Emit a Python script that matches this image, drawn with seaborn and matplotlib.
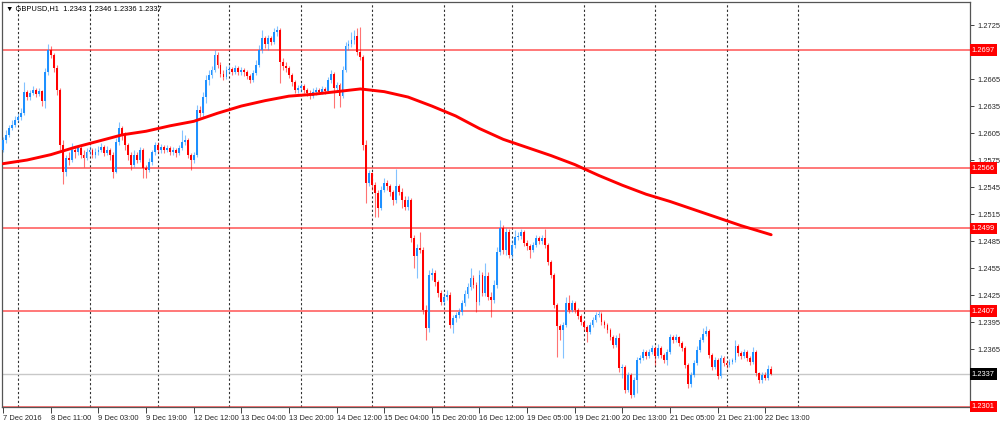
import matplotlib
matplotlib.use("Agg")
import matplotlib.pyplot as plt
import seaborn as sns

sns.set_style("white")
plt.rcParams["font.family"] = ["Liberation Sans", "DejaVu Sans"]

# GBPUSD H1, 7 Dec 2016 19:00 .. 22 Dec 2016 15:00 (one entry per hourly bar)
first_open = 1.2586
closes = [
    1.2597, 1.2603, 1.2611, 1.2614, 1.2619, 1.2623, 1.2627, 1.2651, 1.2645, 1.2649,
    1.2653, 1.2648, 1.2652, 1.2641, 1.2673, 1.2697, 1.2692, 1.2677, 1.2653, 1.2592,
    1.2562, 1.2577, 1.2575, 1.2586, 1.2584, 1.2588, 1.2581, 1.2577, 1.2584, 1.2586,
    1.2581, 1.2584, 1.2586, 1.2589, 1.2583, 1.2586, 1.2581, 1.2562, 1.2595, 1.2611,
    1.2603, 1.2592, 1.2581, 1.2569, 1.2581, 1.2575, 1.2586, 1.2566, 1.2564, 1.2573,
    1.2584, 1.2592, 1.2586, 1.2589, 1.2586, 1.2588, 1.2584, 1.2586, 1.2583, 1.2588,
    1.2595, 1.2597, 1.2581, 1.2575, 1.2581, 1.2631, 1.2627, 1.2645, 1.2664, 1.2669,
    1.2675, 1.2692, 1.2681, 1.2671, 1.2667, 1.2675, 1.2676, 1.2673, 1.2677, 1.2673,
    1.2675, 1.2673, 1.2668, 1.2664, 1.2672, 1.2681, 1.2697, 1.2711, 1.2704, 1.2711,
    1.2706, 1.2717, 1.2719, 1.2684, 1.2679, 1.2677, 1.2669, 1.2662, 1.2653, 1.2655,
    1.2657, 1.2653, 1.2649, 1.2646, 1.2651, 1.2653, 1.2651, 1.2654, 1.2652, 1.2664,
    1.2671, 1.2655, 1.2658, 1.2646, 1.2675, 1.2702, 1.2704, 1.2708, 1.2713, 1.2695,
    1.2689, 1.2592, 1.2550, 1.2561, 1.2547, 1.2538, 1.2522, 1.2542, 1.2550, 1.2546,
    1.2539, 1.2531, 1.2546, 1.2539, 1.2531, 1.2523, 1.2531, 1.2488, 1.2468, 1.2477,
    1.2475, 1.2408, 1.2388, 1.2447, 1.2450, 1.2440, 1.2427, 1.2417, 1.2423, 1.2425,
    1.2392, 1.2399, 1.2403, 1.2406, 1.2416, 1.2426, 1.2434, 1.2444, 1.2436, 1.2417,
    1.2447, 1.2427, 1.2446, 1.2423, 1.2419, 1.2436, 1.2473, 1.2500, 1.2475, 1.2495,
    1.2470, 1.2481, 1.2489, 1.2491, 1.2495, 1.2483, 1.2480, 1.2475, 1.2481, 1.2488,
    1.2485, 1.2488, 1.2481, 1.2462, 1.2447, 1.2414, 1.2391, 1.2386, 1.2392, 1.2416,
    1.2408, 1.2416, 1.2408, 1.2402, 1.2395, 1.2389, 1.2384, 1.2392, 1.2397, 1.2403,
    1.2404, 1.2395, 1.2392, 1.2386, 1.2378, 1.2370, 1.2377, 1.2344, 1.2345, 1.2319,
    1.2336, 1.2314, 1.2331, 1.2353, 1.2355, 1.2362, 1.2357, 1.2362, 1.2366, 1.2357,
    1.2366, 1.2358, 1.2353, 1.2362, 1.2378, 1.2375, 1.2378, 1.2372, 1.2366, 1.2347,
    1.2326, 1.2336, 1.2350, 1.2364, 1.2375, 1.2382, 1.2385, 1.2358, 1.2345, 1.2353,
    1.2335, 1.2355, 1.2350, 1.2347, 1.2351, 1.2353, 1.2368, 1.2361, 1.2357, 1.2362,
    1.2355, 1.2351, 1.2362, 1.2338, 1.2331, 1.2336, 1.2333, 1.2343, 1.2337,
]
highs = [
    1.2601, 1.2608, 1.2614, 1.2619, 1.2624, 1.2627, 1.2633, 1.2662, 1.2653, 1.2653,
    1.2657, 1.2655, 1.2655, 1.2653, 1.2677, 1.2704, 1.2702, 1.2694, 1.2681, 1.2655,
    1.2597, 1.2581, 1.2584, 1.2594, 1.2589, 1.2592, 1.2591, 1.2586, 1.2588, 1.2591,
    1.2588, 1.2588, 1.2591, 1.2594, 1.2592, 1.2591, 1.2588, 1.2584, 1.2599, 1.2617,
    1.2613, 1.2606, 1.2594, 1.2584, 1.2586, 1.2584, 1.2589, 1.2588, 1.2569, 1.2577,
    1.2586, 1.2595, 1.2595, 1.2593, 1.2592, 1.2592, 1.2591, 1.2589, 1.2588, 1.2592,
    1.2608, 1.2603, 1.2599, 1.2583, 1.2584, 1.2636, 1.2635, 1.2651, 1.2669, 1.2675,
    1.2679, 1.2697, 1.2695, 1.2684, 1.2675, 1.2679, 1.2681, 1.2678, 1.2681, 1.2679,
    1.2678, 1.2677, 1.2675, 1.2671, 1.2675, 1.2686, 1.2703, 1.2719, 1.2713, 1.2714,
    1.2713, 1.2722, 1.2724, 1.2722, 1.2688, 1.2684, 1.2679, 1.2672, 1.2664, 1.2658,
    1.2661, 1.2659, 1.2655, 1.2653, 1.2655, 1.2656, 1.2655, 1.2657, 1.2656, 1.2667,
    1.2675, 1.2673, 1.2662, 1.2661, 1.2679, 1.2706, 1.2708, 1.2717, 1.2719, 1.2722,
    1.2723, 1.2692, 1.2597, 1.2564, 1.2562, 1.2551, 1.2542, 1.2546, 1.2555, 1.2553,
    1.2548, 1.2542, 1.2565, 1.2548, 1.2544, 1.2535, 1.2535, 1.2533, 1.2492, 1.2482,
    1.2495, 1.2478, 1.2414, 1.2453, 1.2455, 1.2453, 1.2442, 1.2431, 1.2427, 1.2431,
    1.2428, 1.2403, 1.2406, 1.2411, 1.2419, 1.2431, 1.2438, 1.2455, 1.2447, 1.2439,
    1.2453, 1.2451, 1.2461, 1.2451, 1.2428, 1.2442, 1.2478, 1.2508, 1.2503, 1.2500,
    1.2498, 1.2486, 1.2497, 1.2495, 1.2498, 1.2497, 1.2486, 1.2482, 1.2484, 1.2492,
    1.2491, 1.2492, 1.2498, 1.2483, 1.2464, 1.2450, 1.2416, 1.2393, 1.2395, 1.2423,
    1.2425, 1.2419, 1.2418, 1.2411, 1.2404, 1.2397, 1.2392, 1.2395, 1.2401, 1.2406,
    1.2407, 1.2406, 1.2397, 1.2394, 1.2388, 1.2381, 1.2381, 1.2383, 1.2348, 1.2347,
    1.2339, 1.2338, 1.2334, 1.2356, 1.2358, 1.2365, 1.2364, 1.2365, 1.2370, 1.2368,
    1.2371, 1.2368, 1.2361, 1.2365, 1.2382, 1.2381, 1.2382, 1.2380, 1.2374, 1.2368,
    1.2350, 1.2339, 1.2353, 1.2368, 1.2378, 1.2388, 1.2391, 1.2387, 1.2361, 1.2356,
    1.2355, 1.2358, 1.2357, 1.2353, 1.2354, 1.2355, 1.2375, 1.2371, 1.2363, 1.2365,
    1.2364, 1.2357, 1.2367, 1.2364, 1.2340, 1.2339, 1.2339, 1.2347, 1.2346,
]
lows = [
    1.2584, 1.2594, 1.2601, 1.2608, 1.2612, 1.2617, 1.2619, 1.2625, 1.2642, 1.2642,
    1.2647, 1.2645, 1.2646, 1.2635, 1.2633, 1.2669, 1.2688, 1.2673, 1.2647, 1.2586,
    1.2548, 1.2557, 1.2570, 1.2573, 1.2577, 1.2581, 1.2577, 1.2567, 1.2575, 1.2581,
    1.2577, 1.2577, 1.2581, 1.2584, 1.2580, 1.2581, 1.2575, 1.2555, 1.2561, 1.2592,
    1.2597, 1.2586, 1.2575, 1.2564, 1.2567, 1.2572, 1.2573, 1.2555, 1.2555, 1.2562,
    1.2570, 1.2581, 1.2583, 1.2583, 1.2583, 1.2584, 1.2581, 1.2581, 1.2578, 1.2581,
    1.2586, 1.2592, 1.2577, 1.2564, 1.2572, 1.2578, 1.2623, 1.2623, 1.2638, 1.2658,
    1.2666, 1.2673, 1.2677, 1.2667, 1.2664, 1.2665, 1.2672, 1.2669, 1.2671, 1.2669,
    1.2669, 1.2668, 1.2665, 1.2661, 1.2662, 1.2669, 1.2678, 1.2694, 1.2700, 1.2697,
    1.2703, 1.2704, 1.2713, 1.2661, 1.2675, 1.2673, 1.2666, 1.2657, 1.2649, 1.2649,
    1.2651, 1.2649, 1.2646, 1.2643, 1.2644, 1.2647, 1.2648, 1.2648, 1.2648, 1.2649,
    1.2661, 1.2633, 1.2651, 1.2634, 1.2644, 1.2673, 1.2697, 1.2701, 1.2704, 1.2692,
    1.2686, 1.2586, 1.2527, 1.2546, 1.2542, 1.2512, 1.2512, 1.2520, 1.2539, 1.2542,
    1.2535, 1.2525, 1.2527, 1.2536, 1.2522, 1.2520, 1.2520, 1.2484, 1.2455, 1.2444,
    1.2472, 1.2404, 1.2375, 1.2384, 1.2442, 1.2435, 1.2423, 1.2414, 1.2414, 1.2419,
    1.2388, 1.2383, 1.2395, 1.2399, 1.2403, 1.2413, 1.2422, 1.2431, 1.2433, 1.2406,
    1.2414, 1.2424, 1.2424, 1.2419, 1.2401, 1.2416, 1.2433, 1.2470, 1.2471, 1.2470,
    1.2466, 1.2466, 1.2477, 1.2486, 1.2487, 1.2480, 1.2475, 1.2466, 1.2473, 1.2478,
    1.2482, 1.2482, 1.2477, 1.2458, 1.2444, 1.2411, 1.2356, 1.2375, 1.2355, 1.2389,
    1.2405, 1.2406, 1.2405, 1.2398, 1.2392, 1.2386, 1.2373, 1.2382, 1.2389, 1.2395,
    1.2401, 1.2392, 1.2388, 1.2383, 1.2375, 1.2366, 1.2367, 1.2339, 1.2333, 1.2316,
    1.2317, 1.2311, 1.2312, 1.2316, 1.2350, 1.2353, 1.2354, 1.2355, 1.2360, 1.2347,
    1.2355, 1.2355, 1.2350, 1.2347, 1.2360, 1.2372, 1.2373, 1.2368, 1.2363, 1.2344,
    1.2322, 1.2323, 1.2334, 1.2347, 1.2362, 1.2373, 1.2380, 1.2355, 1.2342, 1.2343,
    1.2332, 1.2333, 1.2346, 1.2344, 1.2345, 1.2348, 1.2351, 1.2357, 1.2354, 1.2355,
    1.2352, 1.2347, 1.2348, 1.2335, 1.2327, 1.2327, 1.2331, 1.2331, 1.2336,
]
# forex hourly bars open at the previous close
opens = [first_open] + closes[:-1]

# moving average, read every 8 bars
ma_bars = [0, 8, 16, 24, 32, 40, 48, 56, 64, 72, 80, 88, 96, 104, 112, 120, 128,
           136, 144, 152, 160, 168, 176, 184, 192, 200, 208, 216, 224, 232, 240,
           248, 256, 258]
ma_values = [1.2571, 1.2575, 1.2581, 1.2589, 1.2596, 1.2603, 1.2607, 1.2613,
             1.2618, 1.2627, 1.2635, 1.2641, 1.2646, 1.2648, 1.2651, 1.2654,
             1.2651, 1.2645, 1.2635, 1.2624, 1.2610, 1.2598, 1.2589, 1.2580,
             1.2570, 1.2558, 1.2547, 1.2537, 1.2529, 1.2520, 1.2511, 1.2502,
             1.2494, 1.2492]

levels = [1.2697, 1.2566, 1.2499, 1.2407, 1.2301]
last_price = 1.2337

label_bars = [0, 16, 32, 48, 64, 80, 96, 112, 128, 144, 160, 176, 192, 208, 224, 240, 256]
time_labels = ["7 Dec 2016", "8 Dec 11:00", "9 Dec 03:00", "9 Dec 19:00",
               "12 Dec 12:00", "13 Dec 04:00", "13 Dec 20:00", "14 Dec 12:00",
               "15 Dec 04:00", "15 Dec 20:00", "16 Dec 12:00", "19 Dec 05:00",
               "19 Dec 21:00", "20 Dec 13:00", "21 Dec 05:00", "21 Dec 21:00",
               "22 Dec 13:00"]
day_bars = [5, 29, 52, 76, 100, 124, 148, 171, 195, 219, 243, 267]
price_ticks = [1.2305, 1.2335, 1.2365, 1.2395, 1.2425, 1.2455, 1.2485, 1.2515,
               1.2545, 1.2575, 1.2605, 1.2635, 1.2665, 1.2695, 1.2725]
# these scale labels sit under the price boxes in the terminal
hidden_ticks = [1.2305, 1.2335, 1.2695]

UP = "#1e90ff"
DOWN = "#ff0000"
FS = 5.4

fig = plt.figure(figsize=(10, 4.24), dpi=100)
ax = fig.add_axes([0.002, 17 / 424, 0.968, 405 / 424])

for b in day_bars:
    ax.axvline(b, color="#303030", lw=0.8, ls=(0, (2, 2)), zorder=1)
for lv in levels:
    ax.axhline(lv, color="#ff3030", lw=1.3, alpha=0.7, zorder=2)
ax.axhline(last_price, color="#c8c8c8", lw=1.0, zorder=2)

bars = list(range(len(closes)))
colors = [UP if c >= o else DOWN for o, c in zip(opens, closes)]
ax.vlines(bars, lows, highs, colors=colors, lw=0.8, alpha=0.55, zorder=3)
ax.bar(bars, [max(abs(c - o), 0.00004) for o, c in zip(opens, closes)],
       bottom=[min(o, c) for o, c in zip(opens, closes)],
       width=0.62, color=colors, lw=0, zorder=4)

sns.lineplot(x=ma_bars, y=ma_values, color="#ff0000", lw=2.1, ax=ax, zorder=5)

ax.set_xlim(-0.4, 324.8)
ax.set_ylim(1.23006, 1.27506)

ax.set_xticks(label_bars)
ax.set_xticklabels(time_labels, ha="left", fontsize=FS)
ax.tick_params(axis="x", bottom=True, direction="out", length=4, width=0.7,
               pad=1.5, color="#404040")
ax.yaxis.tick_right()
ax.set_yticks(price_ticks)
ax.set_yticklabels(["" if t in hidden_ticks else f"{t:.4f}" for t in price_ticks],
                   fontsize=FS)
ax.tick_params(axis="y", right=True, left=False, direction="out", length=3,
               width=0.7, pad=2, color="#404040")
ax.set_xlabel("")
ax.set_ylabel("")
for s in ax.spines.values():
    s.set_color("#555555")
    s.set_linewidth(0.9)

for lv in levels:
    ax.text(1.002, lv, f"{lv:.4f}", transform=ax.get_yaxis_transform(),
            ha="left", va="center", fontsize=FS, color="white", clip_on=False,
            bbox=dict(boxstyle="square,pad=0.3", fc="#ff0000", ec="none"), zorder=10)
ax.text(1.002, last_price, f"{last_price:.4f}", transform=ax.get_yaxis_transform(),
        ha="left", va="center", fontsize=FS, color="white", clip_on=False,
        bbox=dict(boxstyle="square,pad=0.3", fc="black", ec="none"), zorder=10)

ax.text(0.004, 0.992, "\u25bc GBPUSD,H1  1.2343 1.2346 1.2336 1.2337",
        transform=ax.transAxes, ha="left", va="top", fontsize=FS, color="black")

fig.savefig("out.png", dpi=100)
